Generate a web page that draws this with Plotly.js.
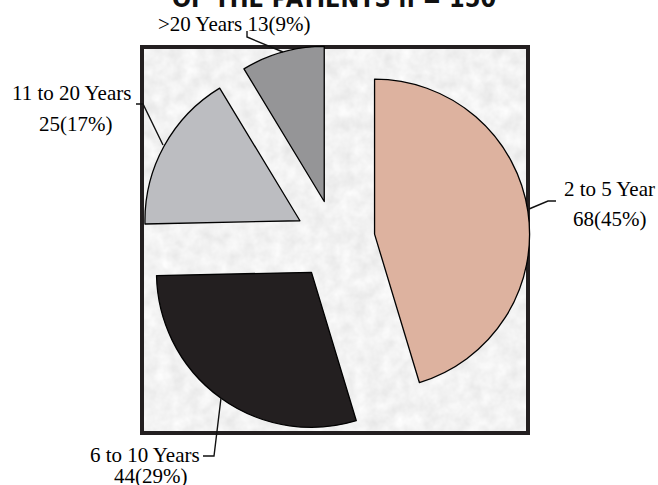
<!DOCTYPE html>
<html>
<head>
<meta charset="utf-8">
<script src="https://cdn.plot.ly/plotly-3.0.1.min.js"></script>
<style>html,body{margin:0;padding:0;background:#fff;}#chart{width:658px;height:485px;}</style>
</head>
<body>
<div id="chart"></div>
<script>
// ---- data ----
const categories = ['2 to 5 Year', '6 to 10 Years', '11 to 20 Years', '>20 Years'];
const counts = [68, 44, 25, 13];
const percents = ['45%', '29%', '17%', '9%'];
const sliceColors = ['#DDB29F', '#231F20', '#BCBDC1', '#959597'];
const titleText = 'OF THE PATIENTS n = 150';

// ---- layout geometry (pixels) ----
const W = 658, H = 485;
const M = {l: 140, r: 128, t: 45, b: 50};
const PW = W - M.l - M.r, PH = H - M.t - M.b;
const px = x => (x - M.l) / PW;
const py = y => (H - M.b - y) / PH;

const serif = 'Liberation Serif, Times New Roman, serif';
const fs = 21;

function ann(text, x, y, xanchor) {
  return {text: text, xref: 'paper', yref: 'paper', x: px(x), y: py(y),
    xanchor: xanchor || 'center', yanchor: 'middle', showarrow: false,
    font: {family: serif, size: fs, color: '#000'}};
}
function lbl(i) { return counts[i] + '(' + percents[i] + ')'; }

const annotations = [
  ann(categories[3] + ' ' + lbl(3), 234, 24),
  ann(categories[2], 71, 93),
  ann(lbl(2), 75, 124),
  ann(categories[0], 562, 189, 'left'),
  ann(lbl(0), 609, 219),
  ann(categories[1], 145, 455),
  ann(lbl(1), 150, 476),
  {text: '<b>' + titleText + '</b>', xref: 'paper', yref: 'paper', x: px(334), y: py(15),
   xanchor: 'center', yanchor: 'bottom', showarrow: false,
   font: {family: 'Liberation Sans Narrow, Arial Narrow, DejaVu Sans Condensed, sans-serif', size: 25, color: '#111'}}
];

function path(pts) {
  return 'M' + pts.map(p => px(p[0]) + ',' + py(p[1])).join(' L');
}
function leader(pts) {
  return {type: 'path', xref: 'paper', yref: 'paper', path: path(pts),
    line: {color: '#111', width: 1.4}, layer: 'above'};
}

const noiseSvg = '<svg xmlns="http://www.w3.org/2000/svg" width="390" height="390">' +
  '<filter id="n" color-interpolation-filters="sRGB"><feTurbulence type="fractalNoise" baseFrequency="0.07" numOctaves="3" seed="4"/>' +
  '<feColorMatrix type="matrix" values="0.11 0 0 0 0.895  0.11 0 0 0 0.895  0.11 0 0 0 0.895  0 0 0 0 1"/></filter>' +
  '<rect width="390" height="390" filter="url(#n)"/></svg>';

const shapes = [
  {type: 'rect', xref: 'paper', yref: 'paper', x0: px(142), x1: px(528), y0: py(433), y1: py(47),
   line: {color: '#231F20', width: 4}, fillcolor: 'rgba(0,0,0,0)', layer: 'below'},
  leader([[247, 31], [247, 37], [283, 52]]),
  leader([[136, 104], [143, 104], [163, 145]]),
  leader([[556, 201], [548, 201], [529, 209]]),
  leader([[203, 456], [214, 456], [221, 398]])
];

const trace = {
  type: 'pie',
  values: counts,
  labels: categories,
  sort: false,
  direction: 'clockwise',
  rotation: 0,
  pull: [0.258, 0.258, 0.258, 0.258],
  marker: {colors: sliceColors, line: {color: '#000', width: 1.3}},
  textinfo: 'none',
  hoverinfo: 'none',
  showlegend: false
};

const layout = {
  width: W, height: H,
  margin: M,
  paper_bgcolor: '#fff',
  showlegend: false,
  annotations: annotations,
  shapes: shapes,
  images: [{source: 'data:image/svg+xml;charset=utf-8,' + encodeURIComponent(noiseSvg),
    xref: 'paper', yref: 'paper', x: px(142), y: py(47), sizex: px(528) - px(142), sizey: py(47) - py(433),
    sizing: 'stretch', xanchor: 'left', yanchor: 'top', layer: 'below'}]
};

Plotly.newPlot('chart', [trace], layout, {staticPlot: true});
</script>
</body>
</html>
